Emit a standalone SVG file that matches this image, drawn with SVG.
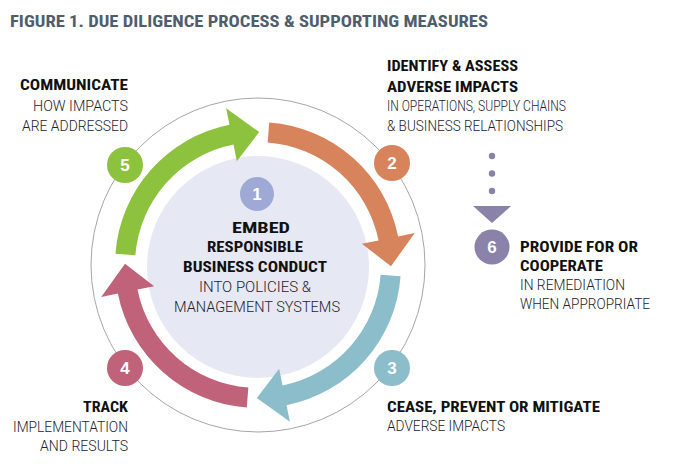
<svg xmlns="http://www.w3.org/2000/svg" width="673" height="475" viewBox="0 0 673 475">
<style>
.b{font-family:"Liberation Sans Narrow","Roboto Condensed","Liberation Sans",sans-serif;font-weight:bold;font-size:15.5px;fill:#111}
.l{font-family:Roboto,"Liberation Sans Narrow","Liberation Sans",sans-serif;font-weight:300;font-size:15px;fill:#22222d}
.t{font-family:"Liberation Sans Narrow","Roboto Condensed","Liberation Sans",sans-serif;font-weight:bold;font-size:17px;fill:#4f5d6c}
.n{font-family:"Liberation Sans",sans-serif;font-weight:bold;font-size:17px;fill:#fff;text-anchor:middle}
.e{text-anchor:end}
.m{text-anchor:middle}
</style>
<defs>
<path id="arr" d="M400.56,276.22 A142,142 0 0 1 286.51,405.13 L289.90,421.79 L256.84,397.99 L279.13,368.87 L282.52,385.53 A122.5,122.5 0 0 0 380.62,274.65 Z"/>
</defs>
<rect width="673" height="475" fill="#fff"/>
<text class="t" x="10" y="27" textLength="478" lengthAdjust="spacingAndGlyphs">FIGURE 1. DUE DILIGENCE PROCESS &amp; SUPPORTING MEASURES</text>
<circle cx="258" cy="265" r="167" fill="none" stroke="#a6a6a6" stroke-width="1"/>
<g id="node1">
<circle cx="258" cy="267" r="111" fill="#e6e8f3"/>
<circle cx="257" cy="194" r="17" fill="#9eaad5"/>
<text class="n" x="257" y="200">1</text>
<text class="b m" x="261" y="233" textLength="58" lengthAdjust="spacingAndGlyphs">EMBED</text>
<text class="b m" x="255" y="252" textLength="96" lengthAdjust="spacingAndGlyphs">RESPONSIBLE</text>
<text class="b m" x="255" y="272" textLength="144" lengthAdjust="spacingAndGlyphs">BUSINESS CONDUCT</text>
<text class="l m" x="255" y="292" textLength="112" lengthAdjust="spacingAndGlyphs">INTO POLICIES &amp;</text>
<text class="l m" x="257" y="312" textLength="166" lengthAdjust="spacingAndGlyphs">MANAGEMENT SYSTEMS</text>
</g>
<g id="connectors">
<use href="#arr" fill="#8cbdca"/>
<use href="#arr" fill="#c0627a" transform="rotate(90 258 265)"/>
<use href="#arr" fill="#8dc23f" transform="rotate(180 258 265)"/>
<use href="#arr" fill="#d7835c" transform="rotate(270 258 265)"/>
<circle cx="492" cy="156" r="3.2" fill="#8a82a8"/>
<circle cx="492" cy="173.5" r="3.2" fill="#8a82a8"/>
<circle cx="492" cy="191" r="3.2" fill="#8a82a8"/>
<polygon points="473,206 511,206 492,223" fill="#8a82a8"/>
</g>
<g id="node5">
<circle cx="125" cy="165" r="18" fill="#8dc23f"/>
<text class="n" x="125" y="171">5</text>
<text class="b e" x="128" y="90" textLength="108" lengthAdjust="spacingAndGlyphs">COMMUNICATE</text>
<text class="l e" x="128" y="111" textLength="95" lengthAdjust="spacingAndGlyphs">HOW IMPACTS</text>
<text class="l e" x="128" y="131" textLength="106" lengthAdjust="spacingAndGlyphs">ARE ADDRESSED</text>
</g>
<g id="node2">
<circle cx="392" cy="163" r="18" fill="#d7835c"/>
<text class="n" x="392" y="169">2</text>
<text class="b" x="387" y="71" textLength="131" lengthAdjust="spacingAndGlyphs">IDENTIFY &amp; ASSESS</text>
<text class="b" x="387" y="92" textLength="131" lengthAdjust="spacingAndGlyphs">ADVERSE IMPACTS</text>
<text class="l" x="387" y="111" textLength="179" lengthAdjust="spacingAndGlyphs">IN OPERATIONS, SUPPLY CHAINS</text>
<text class="l" x="387" y="131" textLength="176" lengthAdjust="spacingAndGlyphs">&amp; BUSINESS RELATIONSHIPS</text>
</g>
<g id="node3">
<circle cx="392" cy="368" r="18" fill="#8cbdca"/>
<text class="n" x="392" y="374">3</text>
<text class="b" x="387" y="412" textLength="213" lengthAdjust="spacingAndGlyphs">CEASE, PREVENT OR MITIGATE</text>
<text class="l" x="387" y="431" textLength="118" lengthAdjust="spacingAndGlyphs">ADVERSE IMPACTS</text>
</g>
<g id="node4">
<circle cx="125" cy="368" r="18" fill="#c0627a"/>
<text class="n" x="125" y="374">4</text>
<text class="b e" x="128" y="412" textLength="45" lengthAdjust="spacingAndGlyphs">TRACK</text>
<text class="l e" x="128" y="432" textLength="115" lengthAdjust="spacingAndGlyphs">IMPLEMENTATION</text>
<text class="l e" x="128" y="451" textLength="88" lengthAdjust="spacingAndGlyphs">AND RESULTS</text>
</g>
<g id="node6">
<circle cx="492" cy="247" r="17.5" fill="#8a82a8"/>
<text class="n" x="492" y="253">6</text>
<text class="b" x="520" y="252" textLength="118" lengthAdjust="spacingAndGlyphs">PROVIDE FOR OR</text>
<text class="b" x="520" y="271" textLength="83" lengthAdjust="spacingAndGlyphs">COOPERATE</text>
<text class="l" x="520" y="290" textLength="105" lengthAdjust="spacingAndGlyphs">IN REMEDIATION</text>
<text class="l" x="520" y="309" textLength="130" lengthAdjust="spacingAndGlyphs">WHEN APPROPRIATE</text>
</g>
</svg>
